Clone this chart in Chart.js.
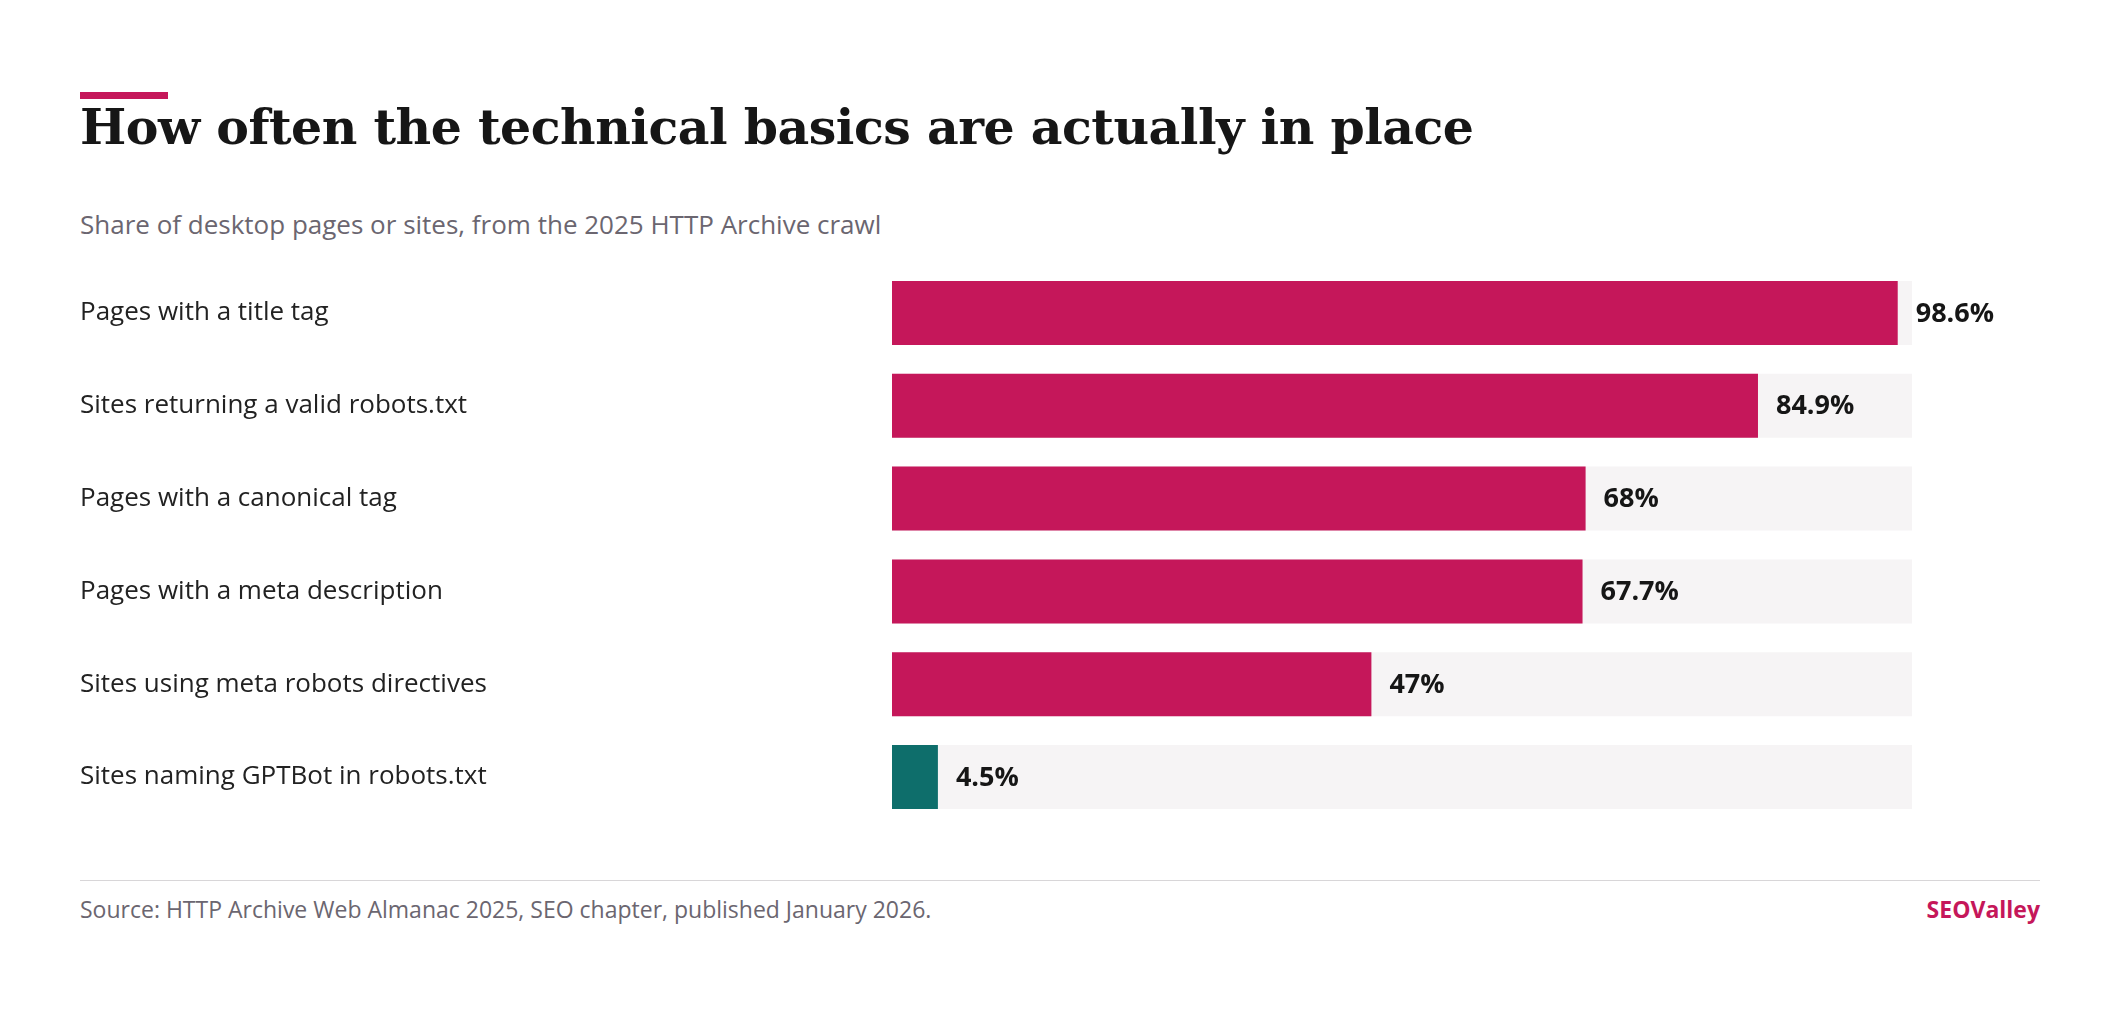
<!DOCTYPE html>
<html>
<head>
<meta charset="utf-8">
<script src="https://cdn.jsdelivr.net/npm/chart.js@4"></script>
<style>
  body { margin: 0; background: #fff; width: 2120px; height: 1010px; position: relative; font-family: "Open Sans", "Noto Sans", sans-serif; }
  .accent { position: absolute; left: 80px; top: 92px; width: 88px; height: 7px; background: #c5175a; }
  h1 { position: absolute; left: 80px; top: 98px; margin: 0; font: bold 49px "DejaVu Serif", "Liberation Serif", serif; color: #161616; letter-spacing: -0.5px; }
  .sub { position: absolute; left: 80px; top: 206px; font-size: 26px; color: #6b6670; }
  #wrap { position: absolute; left: 80px; top: 251px; width: 1960px; height: 588px; }
  .rule { position: absolute; left: 80px; top: 880px; width: 1960px; height: 1px; background: #d8d6d8; }
  .src { position: absolute; left: 80px; top: 893px; font-size: 23px; color: #6b6670; }
  .brand { position: absolute; right: 80px; top: 893px; font-size: 23px; font-weight: bold; color: #c5175a; }
</style>
</head>
<body>
<div class="accent"></div>
<h1>How often the technical basics are actually in place</h1>
<div class="sub">Share of desktop pages or sites, from the 2025 HTTP Archive crawl</div>
<div id="wrap"><canvas id="chart"></canvas></div>
<div class="rule"></div>
<div class="src">Source: HTTP Archive Web Almanac 2025, SEO chapter, published January 2026.</div>
<div class="brand">SEOValley</div>
<script>
const categories = [
  "Pages with a title tag",
  "Sites returning a valid robots.txt",
  "Pages with a canonical tag",
  "Pages with a meta description",
  "Sites using meta robots directives",
  "Sites naming GPTBot in robots.txt"
];
const values = [98.6, 84.9, 68, 67.7, 47, 4.5];
const valueLabels = ["98.6%", "84.9%", "68%", "67.7%", "47%", "4.5%"];
const trackValues = [100, 100, 100, 100, 100, 100];
const barColors = ["#c5175a", "#c5175a", "#c5175a", "#c5175a", "#c5175a", "#0e6e6b"];

const valueLabelPlugin = {
  id: "valueLabels",
  afterDatasetsDraw(chart) {
    const ctx = chart.ctx;
    const meta = chart.getDatasetMeta(0);
    ctx.save();
    ctx.font = "bold 27px 'Open Sans', sans-serif";
    ctx.fillStyle = "#161616";
    ctx.textBaseline = "middle";
    meta.data.forEach((bar, i) => ctx.fillText(valueLabels[i], bar.x + 18, bar.y + 1));
    ctx.restore();
  }
};

new Chart(document.getElementById("chart"), {
  type: "bar",
  data: {
    labels: categories,
    datasets: [
      { data: values, backgroundColor: barColors, order: 0 },
      { data: trackValues, backgroundColor: "#f6f4f5", order: 1 }
    ]
  },
  options: {
    indexAxis: "y",
    responsive: true,
    maintainAspectRatio: false,
    animation: false,
    grouped: false,
    barPercentage: 0.69,
    categoryPercentage: 1,
    layout: { padding: { left: 0, right: 128, top: 0, bottom: 0 } },
    plugins: { legend: { display: false }, tooltip: { enabled: false } },
    scales: {
      x: { min: 0, max: 100, display: false },
      y: {
        grid: { display: false },
        border: { display: false },
        ticks: {
          crossAlign: "far",
          color: "#222",
          padding: 0,
          font: { size: 26, family: "'Open Sans', sans-serif" }
        },
        afterFit(scale) { scale.width = 812; }
      }
    }
  },
  plugins: [valueLabelPlugin]
});
</script>
</body>
</html>
